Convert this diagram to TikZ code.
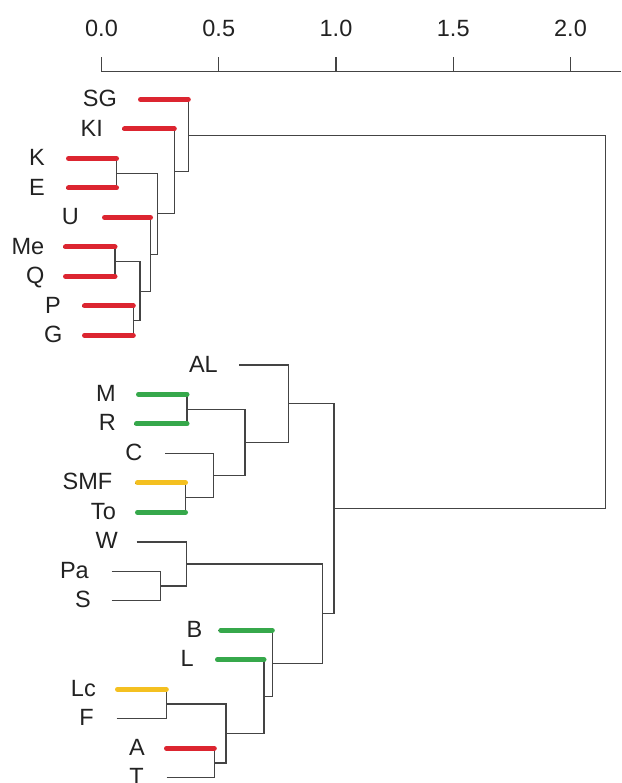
\documentclass[tikz,border=0pt]{standalone}
\usepackage{fontspec}
\setmainfont{Liberation Sans}
\definecolor{lineg}{HTML}{444444}
\definecolor{barred}{HTML}{DC2530}
\definecolor{bargreen}{HTML}{36A84B}
\definecolor{baryellow}{HTML}{F4C020}
\definecolor{txt}{HTML}{222222}
\begin{document}
\begin{tikzpicture}[x=1pt,y=-1pt,
  lbl/.style={font=\fontsize{23.5}{28}\selectfont, text=txt, inner sep=0pt, anchor=east, text height=16.2pt, text depth=0pt},
  ticklbl/.style={font=\fontsize{23.5}{28}\selectfont, text=txt, inner sep=0pt, anchor=center, text height=16.2pt, text depth=0pt},
  branch/.style={draw=lineg, line width=1.3pt},
  axisline/.style={draw=lineg, line width=1.3pt},
  bar/.style={line width=5pt, line cap=round, shorten <=2.5pt},
]
\useasboundingbox (0,0) rectangle (621,783);
% axis
\coordinate (a0) at (101.5,71.7);
\coordinate (a1) at (218.75,71.7);
\coordinate (a2) at (336,71.7);
\coordinate (a3) at (453.25,71.7);
\coordinate (a4) at (570.5,71.7);
\coordinate (aend) at (621,71.7);
\draw[axisline] (a0) -- (aend);
\foreach \t in {a0,a1,a2,a3,a4} \draw[axisline] (\t) -- ++(0,-15);
\node[ticklbl] (l0) at (101.5,28.3) {0.0};
\node[ticklbl] (l1) at (218.75,28.3) {0.5};
\node[ticklbl] (l2) at (336,28.3) {1.0};
\node[ticklbl] (l3) at (453.25,28.3) {1.5};
\node[ticklbl] (l4) at (570.5,28.3) {2.0};
% leaves (line start points)
\coordinate (SG) at (138,99.5);
\coordinate (KI) at (122,128.99);
\coordinate (K) at (66,158.48);
\coordinate (E) at (66,187.97);
\coordinate (U) at (102,217.46);
\coordinate (Me) at (63,246.95);
\coordinate (Q) at (63,276.44);
\coordinate (P) at (82,305.93);
\coordinate (G) at (82,335.42);
\coordinate (AL) at (239,364.91);
\coordinate (M) at (136,394.4);
\coordinate (R) at (134,423.89);
\coordinate (C) at (165,453.38);
\coordinate (SMF) at (135,482.87);
\coordinate (To) at (135,512.36);
\coordinate (W) at (136.7,541.85);
\coordinate (Pa) at (111.7,571.34);
\coordinate (S) at (111.7,600.83);
\coordinate (B) at (218.3,630.32);
\coordinate (L) at (215,659.81);
\coordinate (Lc) at (115,689.3);
\coordinate (F) at (116.7,718.79);
\coordinate (A) at (164,748.28);
\coordinate (T) at (166.7,777.77);
% merges
\coordinate (nKE) at (116.5,173.23);
\coordinate (nMeQ) at (115,261.70);
\coordinate (nPG) at (133.3,320.68);
\coordinate (nMQPG) at (140,291.19);
\coordinate (nU) at (150.5,254.33);
\coordinate (nKEU) at (157.3,213.78);
\coordinate (nKI) at (174.3,171.39);
\coordinate (nTop) at (188.3,135.45);
\coordinate (nMR) at (187,409.15);
\coordinate (nST) at (185.5,497.62);
\coordinate (nC) at (213.3,475.5);
\coordinate (nMRC) at (245,442.33);
\coordinate (nAL) at (288.3,403.62);
\coordinate (nPaS) at (160.7,586.09);
\coordinate (nW) at (186.7,563.97);
\coordinate (nLcF) at (166.3,704.05);
\coordinate (nAT) at (214.3,763.03);
\coordinate (nLFAT) at (226,733.54);
\coordinate (nL) at (264,696.68);
\coordinate (nB) at (272.3,663.5);
\coordinate (nWB) at (322.7,613.74);
\coordinate (nBot) at (334,508.68);
\coordinate (root) at (605.3,322.07);
% branches
\draw[branch] (K) -| (nKE);  \draw[branch] (E) -| (nKE);
\draw[branch] (Me) -| (nMeQ); \draw[branch] (Q) -| (nMeQ);
\draw[branch] (P) -| (nPG);  \draw[branch] (G) -| (nPG);
\draw[branch] (nMeQ) -| (nMQPG); \draw[branch] (nPG) -| (nMQPG);
\draw[branch] (U) -| (nU); \draw[branch] (nMQPG) -| (nU);
\draw[branch] (nKE) -| (nKEU); \draw[branch] (nU) -| (nKEU);
\draw[branch] (KI) -| (nKI); \draw[branch] (nKEU) -| (nKI);
\draw[branch] (SG) -| (nTop); \draw[branch] (nKI) -| (nTop);
\draw[branch] (M) -| (nMR); \draw[branch] (R) -| (nMR);
\draw[branch] (SMF) -| (nST); \draw[branch] (To) -| (nST);
\draw[branch] (C) -| (nC); \draw[branch] (nST) -| (nC);
\draw[branch] (nMR) -| (nMRC); \draw[branch] (nC) -| (nMRC);
\draw[branch] (AL) -| (nAL); \draw[branch] (nMRC) -| (nAL);
\draw[branch] (Pa) -| (nPaS); \draw[branch] (S) -| (nPaS);
\draw[branch] (W) -| (nW); \draw[branch] (nPaS) -| (nW);
\draw[branch] (Lc) -| (nLcF); \draw[branch] (F) -| (nLcF);
\draw[branch] (A) -| (nAT); \draw[branch] (T) -| (nAT);
\draw[branch] (nLcF) -| (nLFAT); \draw[branch] (nAT) -| (nLFAT);
\draw[branch] (L) -| (nL); \draw[branch] (nLFAT) -| (nL);
\draw[branch] (B) -| (nB); \draw[branch] (nL) -| (nB);
\draw[branch] (nW) -| (nWB); \draw[branch] (nB) -| (nWB);
\draw[branch] (nAL) -| (nBot); \draw[branch] (nWB) -| (nBot);
\draw[branch] (nTop) -| (root); \draw[branch] (nBot) -| (root);
% coloured bars
\draw[bar, barred] (SG) -- (SG -| nTop);
\draw[bar, barred] (KI) -- (KI -| nKI);
\draw[bar, barred] (K) -- (K -| nKE);
\draw[bar, barred] (E) -- (E -| nKE);
\draw[bar, barred] (U) -- (U -| nU);
\draw[bar, barred] (Me) -- (Me -| nMeQ);
\draw[bar, barred] (Q) -- (Q -| nMeQ);
\draw[bar, barred] (P) -- (P -| nPG);
\draw[bar, barred] (G) -- (G -| nPG);
\draw[bar, bargreen] (M) -- (M -| nMR);
\draw[bar, bargreen] (R) -- (R -| nMR);
\draw[bar, baryellow] (SMF) -- (SMF -| nST);
\draw[bar, bargreen] (To) -- (To -| nST);
\draw[bar, bargreen] (B) -- (B -| nB);
\draw[bar, bargreen] (L) -- (L -| nL);
\draw[bar, baryellow] (Lc) -- (Lc -| nLcF);
\draw[bar, barred] (A) -- (A -| nAT);
% labels
\node[lbl] (tSG) at (117,98.5) {SG};
\node[lbl] (tKI) at (103,127.99) {KI};
\node[lbl] (tK) at (45,157.48) {K};
\node[lbl] (tE) at (45,186.97) {E};
\node[lbl] (tU) at (79,216.46) {U};
\node[lbl] (tMe) at (44.5,245.95) {Me};
\node[lbl] (tQ) at (44.5,275.44) {Q};
\node[lbl] (tP) at (61,304.93) {P};
\node[lbl] (tG) at (62.5,334.42) {G};
\node[lbl] (tAL) at (218,363.91) {AL};
\node[lbl] (tM) at (116,393.4) {M};
\node[lbl] (tR) at (116,422.89) {R};
\node[lbl] (tC) at (142.5,452.38) {C};
\node[lbl] (tSMF) at (112.5,481.87) {SMF};
\node[lbl] (tTo) at (116,511.36) {To};
\node[lbl] (tW) at (118,540.85) {W};
\node[lbl] (tPa) at (89,570.34) {Pa};
\node[lbl] (tS) at (91,599.83) {S};
\node[lbl] (tB) at (202.5,629.32) {B};
\node[lbl] (tL) at (194,658.81) {L};
\node[lbl] (tLc) at (96,688.3) {Lc};
\node[lbl] (tF) at (94,717.79) {F};
\node[lbl] (tA) at (145,747.28) {A};
\node[lbl] (tT) at (144,776.77) {T};
\end{tikzpicture}
\end{document}
